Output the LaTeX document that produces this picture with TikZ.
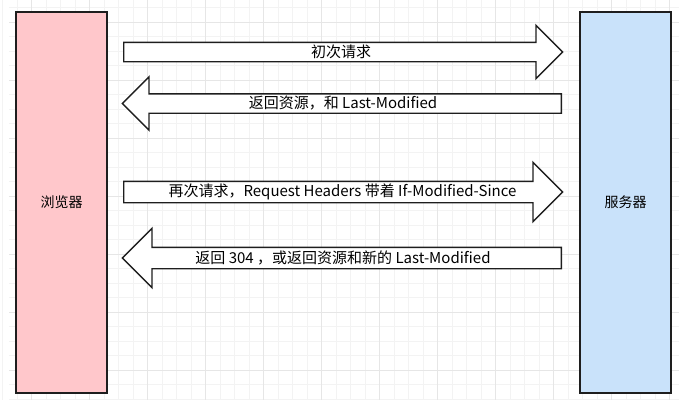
\documentclass[tikz,border=0pt]{standalone}
\usepackage{fontspec}
\setmainfont{Noto Sans CJK SC}
\usetikzlibrary{shapes.arrows}
\definecolor{gridminor}{RGB}{243,243,243}
\definecolor{gridmajor}{RGB}{230,230,230}
\definecolor{browserpink}{RGB}{255,199,203}
\definecolor{serverblue}{RGB}{201,226,250}
\definecolor{edgegray}{RGB}{30,30,30}

\begin{document}
\begin{tikzpicture}[
    x=1pt, y=-1pt,
    sidebox/.style={rectangle, draw=edgegray, line width=1.6pt, minimum width=91pt, minimum height=381pt, inner sep=0pt, font=\fontsize{14}{16}\selectfont},
    msgarrow/.style={single arrow, draw=edgegray, fill=white, line width=1.4pt, minimum height=439pt, inner sep=0pt, anchor=tail},
    thinshaft/.style={text height=18pt, text depth=0pt, single arrow head extend=17pt},
    wideshaft/.style={text height=20pt, text depth=0pt, single arrow head extend=19pt},
    backward/.style={shape border rotate=180},
    msgtext/.style={inner sep=0pt, font=\fontsize{15}{17}\selectfont}
  ]
  \useasboundingbox (0,0) rectangle (679,400);

  % grid
  \foreach \gx in {0,...,46} {
    \draw[gridminor, line width=0.6pt] (2.5+14.5*\gx,0) -- (2.5+14.5*\gx,400);
  }
  \foreach \gy in {0,...,27} {
    \draw[gridminor, line width=0.6pt] (9,7.5+14.5*\gy) -- (679,7.5+14.5*\gy);
  }
  \foreach \gx in {0,...,11} {
    \draw[gridmajor, line width=0.8pt] (31+58*\gx,0) -- (31+58*\gx,400);
  }
  \foreach \gy in {0,...,6} {
    \draw[gridmajor, line width=0.8pt] (9,22+58*\gy) -- (679,22+58*\gy);
  }

  \node[sidebox, fill=browserpink] (browser) at (61.5,202.5) {浏览器};
  \node[sidebox, fill=serverblue] (server) at (625.5,202.5) {服务器};

  % block arrows
  \node[msgarrow, thinshaft] (first) at (123,52) {};
  \node[msgarrow, thinshaft, backward] (reply) at (562,103.5) {};
  \node[msgarrow, wideshaft] (again) at (123,192) {};
  \node[msgarrow, wideshaft, backward] (answer) at (562,258) {};

  \node[msgtext] (firsttext) at (341,52) {初次请求};
  \node[msgtext] (replytext) at (343,103.5) {返回资源，和 Last-Modified};
  \node[msgtext] (againtext) at (342.5,192) {再次请求，Request Headers 带着 If-Modified-Since};
  \node[msgtext] (answertext) at (343,258) {返回 304 ，或返回资源和新的 Last-Modified};
\end{tikzpicture}
\end{document}
